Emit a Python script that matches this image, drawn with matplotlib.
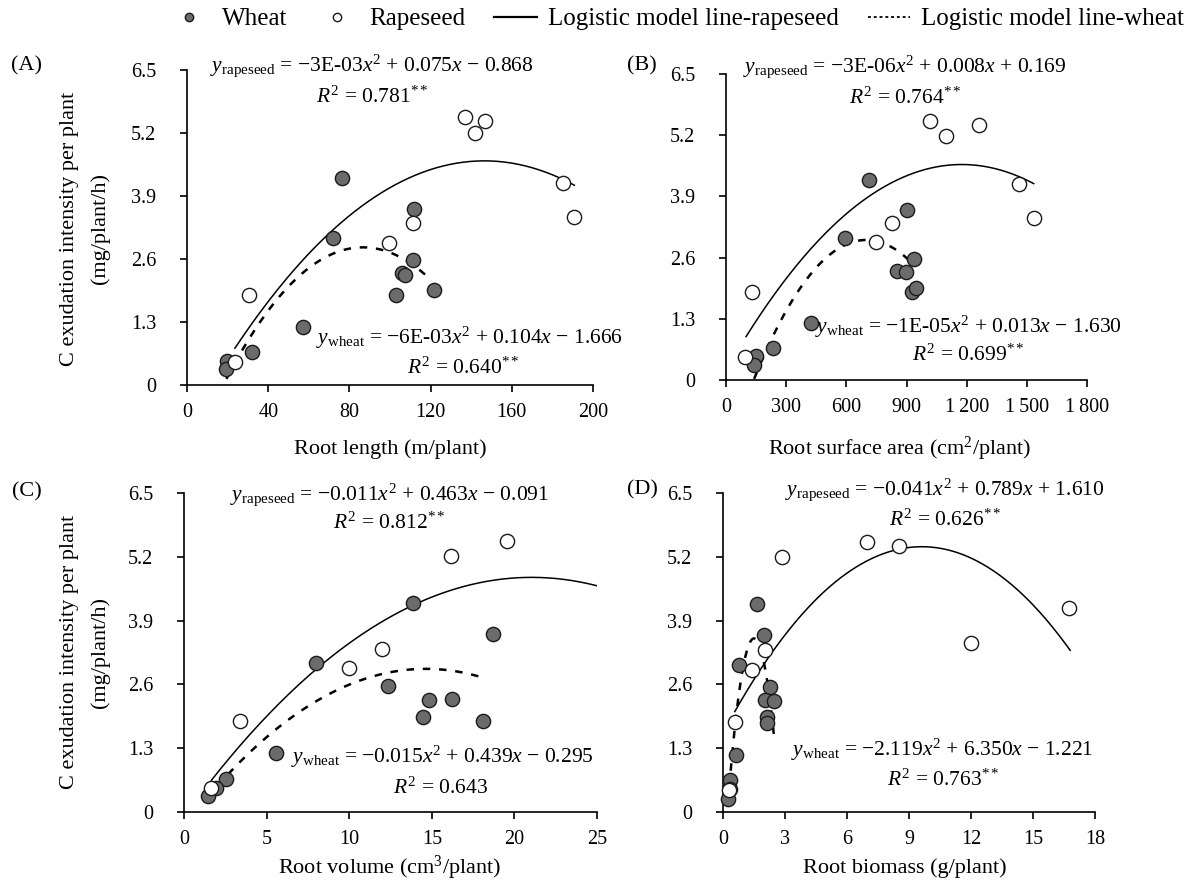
import numpy as np
import matplotlib
matplotlib.use("Agg")
import matplotlib.pyplot as plt
from matplotlib.lines import Line2D

plt.rcParams['font.family'] = ['Liberation Serif', 'DejaVu Serif']
plt.rcParams['mathtext.fontset'] = 'custom'
plt.rcParams['mathtext.rm'] = 'Liberation Serif'
plt.rcParams['mathtext.it'] = 'Liberation Serif:italic'

# --- data ---
# (A) root length
a_wheat_x = [76.2, 72.0, 111.8, 111.4, 106.0, 107.2, 103.0, 121.7, 57.2, 31.8, 19.7, 19.4]
a_wheat_y = [4.27, 3.03, 3.63, 2.57, 2.32, 2.28, 1.86, 1.95, 1.20, 0.69, 0.50, 0.32]
a_rape_x = [136.7, 142.0, 146.9, 185.2, 190.4, 111.2, 99.5, 30.4, 23.7]
a_rape_y = [5.52, 5.21, 5.44, 4.17, 3.46, 3.34, 2.92, 1.86, 0.47]
# (B) root surface area
b_wheat_x = [715, 902, 594, 935, 855, 898, 927, 947, 423, 236, 150, 140]
b_wheat_y = [4.25, 3.62, 3.02, 2.57, 2.31, 2.30, 1.86, 1.95, 1.21, 0.69, 0.52, 0.32]
b_rape_x = [1015, 1096, 1262, 1462, 1534, 830, 749, 128, 95]
b_rape_y = [5.51, 5.19, 5.42, 4.16, 3.45, 3.33, 2.93, 1.86, 0.48]
# (C) root volume
c_wheat_x = [13.88, 18.69, 8.02, 12.36, 14.85, 16.2, 14.48, 18.08, 5.54, 2.57, 1.96, 1.45]
c_wheat_y = [4.25, 3.63, 3.03, 2.57, 2.29, 2.31, 1.94, 1.85, 1.21, 0.68, 0.49, 0.32]
c_rape_x = [19.54, 16.14, 11.96, 10.0, 3.38, 1.66]
c_rape_y = [5.53, 5.21, 3.32, 2.93, 1.85, 0.48]
# (D) root biomass
d_wheat_x = [1.66, 1.97, 0.78, 2.26, 2.02, 2.46, 2.15, 2.15, 0.65, 0.33, 0.33, 0.25]
d_wheat_y = [4.24, 3.61, 3.00, 2.55, 2.28, 2.27, 1.93, 1.82, 1.17, 0.65, 0.46, 0.27]
d_rape_x = [6.97, 8.52, 2.87, 16.74, 11.99, 2.03, 1.42, 0.57, 0.29]
d_rape_y = [5.51, 5.42, 5.19, 4.15, 3.44, 3.30, 2.89, 1.84, 0.44]

# quadratic trend lines (a, b, c) and x range, as drawn in the figure
a_rape_fit, a_rape_rng = [-2.56e-4, 0.075, -0.868], [23.6, 190.8]
a_wheat_fit, a_wheat_rng = [-6.0e-4, 0.104, -1.666], [19.4, 120.0]
b_rape_fit, b_rape_rng = [-3.16e-6, 0.00743, 0.21], [100, 1534]
b_wheat_fit, b_wheat_rng = [-9.44e-6, 0.0132, -1.64], [140, 930]
c_rape_fit, c_rape_rng = [-0.011, 0.463, -0.091], [1.66, 25.0]
c_wheat_fit, c_wheat_rng = [-0.015, 0.439, -0.295], [1.36, 18.1]
d_rape_fit, d_rape_rng = [-0.041, 0.789, 1.610], [0.57, 16.8]
d_wheat_fit, d_wheat_rng = [-2.119, 6.350, -1.221], [0.24, 2.46]

y_ticks = [0, 1.3, 2.6, 3.9, 5.2, 6.5]
y_ticklabels = ['0', '1.3', '2.6', '3.9', '5.2', '6.5']

W, H = 1200, 886
fig = plt.figure(figsize=(12, 8.86), dpi=100)


def px(x, y):
    return x / W, 1 - y / H


def make_axes(l, r, t, b):
    ax = fig.add_axes([l / W, 1 - b / H, (r - l) / W, (b - t) / H])
    for s in ['top', 'right']:
        ax.spines[s].set_visible(False)
    for s in ['left', 'bottom']:
        ax.spines[s].set_linewidth(1.2)
    ax.tick_params(direction='out', length=5, width=1.2, labelsize=14.5)
    ax.tick_params(axis='y', pad=17)
    ax.tick_params(axis='x', pad=8)
    ax.set_ylim(0, 6.5)
    ax.set_yticks(y_ticks)
    ax.set_yticklabels(y_ticklabels)
    ax.patch.set_alpha(0)
    return ax


def draw_panel(ax, wx, wy, rx, ry, rfit, rrng, wfit, wrng):
    xr = np.linspace(rrng[0], rrng[1], 200)
    ax.plot(xr, np.polyval(rfit, xr), color='black', lw=1.1, zorder=2)
    xw = np.linspace(wrng[0], wrng[1], 200)
    ax.plot(xw, np.polyval(wfit, xw), color='black', lw=1.8,
            linestyle=(0, (3.0, 3.5)), zorder=2)
    ax.scatter(wx, wy, s=105, facecolor='#6b6b6b', edgecolor='#1a1a1a',
               linewidth=1.0, zorder=3, clip_on=False)
    ax.scatter(rx, ry, s=105, facecolor='white', edgecolor='#1a1a1a',
               linewidth=1.0, zorder=4, clip_on=False)


def eq_text(x, y, s):
    fig.text(*px(x, y), s, ha='center', va='center', fontsize=15.5)


axA = make_axes(187, 593, 70, 385)
draw_panel(axA, a_wheat_x, a_wheat_y, a_rape_x, a_rape_y,
           a_rape_fit, a_rape_rng, a_wheat_fit, a_wheat_rng)
axA.set_xlim(0, 200)
axA.set_xticks([0, 40, 80, 120, 160, 200])

axB = make_axes(726, 1087, 74, 380)
draw_panel(axB, b_wheat_x, b_wheat_y, b_rape_x, b_rape_y,
           b_rape_fit, b_rape_rng, b_wheat_fit, b_wheat_rng)
axB.set_xlim(0, 1800)
axB.set_xticks([0, 300, 600, 900, 1200, 1500, 1800])
axB.set_xticklabels(['0', '300', '600', '900', '1\u2009200', '1\u2009500', '1\u2009800'])

axC = make_axes(184, 597, 493, 812)
draw_panel(axC, c_wheat_x, c_wheat_y, c_rape_x, c_rape_y,
           c_rape_fit, c_rape_rng, c_wheat_fit, c_wheat_rng)
axC.set_xlim(0, 25)
axC.set_xticks([0, 5, 10, 15, 20, 25])

axD = make_axes(723, 1095, 493, 812)
draw_panel(axD, d_wheat_x, d_wheat_y, d_rape_x, d_rape_y,
           d_rape_fit, d_rape_rng, d_wheat_fit, d_wheat_rng)
axD.set_xlim(0, 18)
axD.set_xticks([0, 3, 6, 9, 12, 15, 18])

# axis titles
for (x, y, s) in [(390, 449, 'Root length (m/plant)'),
                  (900, 449, 'Root surface area (cm$^2$/plant)'),
                  (390, 868, 'Root volume (cm$^3$/plant)'),
                  (905, 868, 'Root biomass (g/plant)')]:
    fig.text(*px(x, y), s, ha='center', va='center', fontsize=16)

for yc in [229, 652]:
    fig.text(*px(85, yc), 'C exudation intensity per plant\n(mg/plant/h)',
             ha='center', va='center', rotation=90, fontsize=16,
             linespacing=1.75, multialignment='center')

for (x, y, s) in [(27, 66, '(A)'), (642, 66, '(B)'), (27, 492, '(C)'), (642, 490, '(D)')]:
    fig.text(*px(x, y), s, ha='center', va='center', fontsize=16)

# equations
eq_text(372, 66, r'$y_{\mathrm{rapeseed}}$ = −3E-03$x^2$ + 0.075$x$ − 0.868')
eq_text(372, 97, r'$R^2$ = 0.781$^{**}$')
eq_text(470, 338, r'$y_{\mathrm{wheat}}$ = −6E-03$x^2$ + 0.104$x$ − 1.666')
eq_text(463, 368, r'$R^2$ = 0.640$^{**}$')

eq_text(905, 67, r'$y_{\mathrm{rapeseed}}$ = −3E-06$x^2$ + 0.008$x$ + 0.169')
eq_text(905, 98, r'$R^2$ = 0.764$^{**}$')
eq_text(968, 327, r'$y_{\mathrm{wheat}}$ = −1E-05$x^2$ + 0.013$x$ − 1.630')
eq_text(968, 355, r'$R^2$ = 0.699$^{**}$')

eq_text(389, 495, r'$y_{\mathrm{rapeseed}}$ = −0.011$x^2$ + 0.463$x$ − 0.091')
eq_text(389, 523, r'$R^2$ = 0.812$^{**}$')
eq_text(442, 757, r'$y_{\mathrm{wheat}}$ = −0.015$x^2$ + 0.439$x$ − 0.295')
eq_text(441, 788, r'$R^2$ = 0.643')

eq_text(945, 490, r'$y_{\mathrm{rapeseed}}$ = −0.041$x^2$ + 0.789$x$ + 1.610')
eq_text(945, 520, r'$R^2$ = 0.626$^{**}$')
eq_text(942, 750, r'$y_{\mathrm{wheat}}$ = −2.119$x^2$ + 6.350$x$ − 1.221')
eq_text(943, 780, r'$R^2$ = 0.763$^{**}$')

# legend
handles = [
    Line2D([], [], marker='o', ls='none', markersize=6, markerfacecolor='#6b6b6b',
           markeredgecolor='#1a1a1a'),
    Line2D([], [], marker='o', ls='none', markersize=6, markerfacecolor='white',
           markeredgecolor='#1a1a1a'),
    Line2D([], [], color='black', lw=1.6),
    Line2D([], [], color='black', lw=1.3, linestyle=(0, (1.6, 1.6))),
]
labels = ['Wheat', 'Rapeseed', 'Logistic model line-rapeseed', 'Logistic model line-wheat']
fig.legend(handles, labels, loc='center', bbox_to_anchor=(px(676, 19)), ncol=4,
           frameon=False, fontsize=18, handlelength=1.7, handletextpad=0.45,
           columnspacing=1.15)

fig.savefig('out.png', dpi=100)
